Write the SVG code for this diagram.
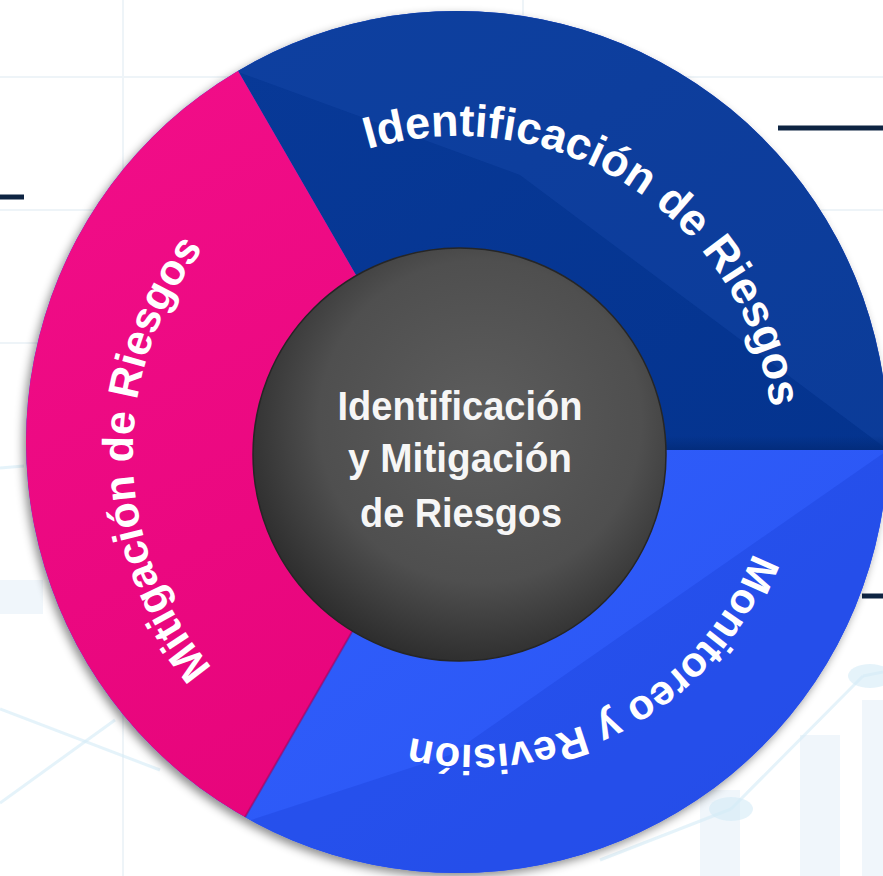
<svg xmlns="http://www.w3.org/2000/svg" width="883" height="876" viewBox="0 0 883 876">
<defs>
<style>
.ring{font-family:"Liberation Sans","Arial",sans-serif;font-weight:bold;fill:#ffffff}
.ctr{font-family:"Liberation Sans Narrow","Liberation Sans","Arial",sans-serif;font-weight:bold;font-size:41px;fill:#f6f6f6;text-anchor:middle}
.grid{stroke:#eef4f8;stroke-width:2;fill:none}
.deco{stroke:#d3ebf7;stroke-width:3;fill:none;opacity:.6}
.bar{fill:#f0f6fb}
.mark{stroke:#0e2442;stroke-width:5}
</style>
<clipPath id="outer"><circle cx="457" cy="442" r="431"/></clipPath>
<filter id="shadow" x="-10%" y="-10%" width="120%" height="120%">
<feDropShadow dx="-3" dy="4" stdDeviation="5" flood-color="#000" flood-opacity="0.45"/>
</filter>
<linearGradient id="gPink" x1="0" y1="0" x2="0.3" y2="1">
<stop offset="0" stop-color="#f7128f"/>
<stop offset="1" stop-color="#e6047a"/>
</linearGradient>
<linearGradient id="gDark" x1="0" y1="0" x2="1" y2="1">
<stop offset="0" stop-color="#0a3c9c"/>
<stop offset="1" stop-color="#03328c"/>
</linearGradient>
<linearGradient id="gLight" x1="0" y1="0" x2="1" y2="1">
<stop offset="0" stop-color="#3161ff"/>
<stop offset="1" stop-color="#2449e6"/>
</linearGradient>
<linearGradient id="gEdge" x1="0" y1="0" x2="0" y2="1">
<stop offset="0" stop-color="#022a78" stop-opacity="0"/>
<stop offset="1" stop-color="#022a78" stop-opacity="0.8"/>
</linearGradient>
<radialGradient id="gCore" cx="0.55" cy="0.42" r="0.6">
<stop offset="0" stop-color="#5d5d5d"/>
<stop offset="0.65" stop-color="#4f4f4f"/>
<stop offset="1" stop-color="#2c2c2c"/>
</radialGradient>
<path id="arcTop" d="M300 178.3 A316 316 0 0 1 774 452"/>
<path id="arcRight" d="M772 449 A296 296 0 0 1 328 705.3"/>
<path id="arcLeft" d="M298.5 739.7 A331 331 0 0 1 298.5 166.3"/>
</defs>

<rect width="883" height="876" fill="#ffffff"/>

<g id="background">
<line class="grid" x1="123" y1="0" x2="123" y2="876"/>
<line class="grid" x1="523" y1="0" x2="523" y2="60"/>
<line class="grid" x1="0" y1="77" x2="883" y2="77"/>
<line class="grid" x1="0" y1="210" x2="883" y2="210"/>
<line class="grid" x1="0" y1="343" x2="120" y2="343"/>
<rect class="bar" x="0" y="580" width="43" height="34"/>
<rect class="bar" x="800" y="735" width="40" height="141"/>
<rect class="bar" x="862" y="700" width="21" height="176"/>
<rect class="bar" x="700" y="790" width="40" height="86"/>
<line class="deco" x1="0" y1="468" x2="24" y2="466"/>
<line class="deco" x1="0" y1="709" x2="160" y2="770"/>
<line class="deco" x1="0" y1="803" x2="115" y2="720"/>
<line class="deco" x1="731" y1="809" x2="863" y2="676"/>
<line class="deco" x1="863" y1="676" x2="883" y2="672"/>
<line class="deco" x1="600" y1="860" x2="731" y2="809"/>
<ellipse cx="731" cy="809" rx="22" ry="12" fill="#d3ebf7" opacity=".6"/>
<ellipse cx="870" cy="676" rx="22" ry="12" fill="#d3ebf7" opacity=".6"/>
<line class="mark" x1="0" y1="197" x2="24" y2="197"/>
<line class="mark" x1="778" y1="128" x2="883" y2="128"/>
<line class="mark" x1="862" y1="596" x2="883" y2="596"/>
</g>

<g filter="url(#shadow)">
<circle cx="457" cy="442" r="431" fill="#2449e6"/>
</g>

<g clip-path="url(#outer)">
<g id="node-identificacion">
<polygon points="457,450 107,-156 1200,-300 1200,450" fill="url(#gDark)"/>
<polygon points="238,72 520,175 888,450 1200,450 1200,-300 107,-156" fill="#1d4fb2" opacity="0.3"/>
<rect x="600" y="436" width="300" height="14" fill="url(#gEdge)"/>
<text class="ring" font-size="45"><textPath href="#arcTop" startOffset="74">Identificación</textPath></text>
<text class="ring" font-size="45"><textPath href="#arcTop" startOffset="377">de Riesgos</textPath></text>
</g>
<g id="node-monitoreo">
<polygon points="457,450 1200,450 1200,1300 107,1056" fill="url(#gLight)"/>
<polygon points="888,450 450,755 242,823 107,1056 1200,1300 1200,450" fill="#1a3fd6" opacity="0.35"/>
<text class="ring" font-size="42"><textPath href="#arcRight" startOffset="51.4%" text-anchor="middle">Monitoreo y Revisión</textPath></text>
</g>
<g id="node-mitigacion">
<polygon points="457,450 107,1056 -300,1056 -300,-156 107,-156" fill="url(#gPink)"/>
<line x1="457" y1="450" x2="107" y2="1056" stroke="#a0004f" stroke-width="2" opacity="0.5"/>
<text class="ring" font-size="43"><textPath href="#arcLeft" startOffset="49%" text-anchor="middle">Mitigación de Riesgos</textPath></text>
</g>
</g>

<g id="node-center">
<circle cx="459.5" cy="454.5" r="206.5" fill="url(#gCore)" stroke="#262626" stroke-width="1.5"/>
<text class="ctr" x="460" y="420" textLength="245" lengthAdjust="spacingAndGlyphs">Identificación</text>
<text class="ctr" x="460" y="472" textLength="224" lengthAdjust="spacingAndGlyphs">y Mitigación</text>
<text class="ctr" x="461" y="527" textLength="202" lengthAdjust="spacingAndGlyphs">de Riesgos</text>
</g>

<g id="connectors"/>
</svg>
